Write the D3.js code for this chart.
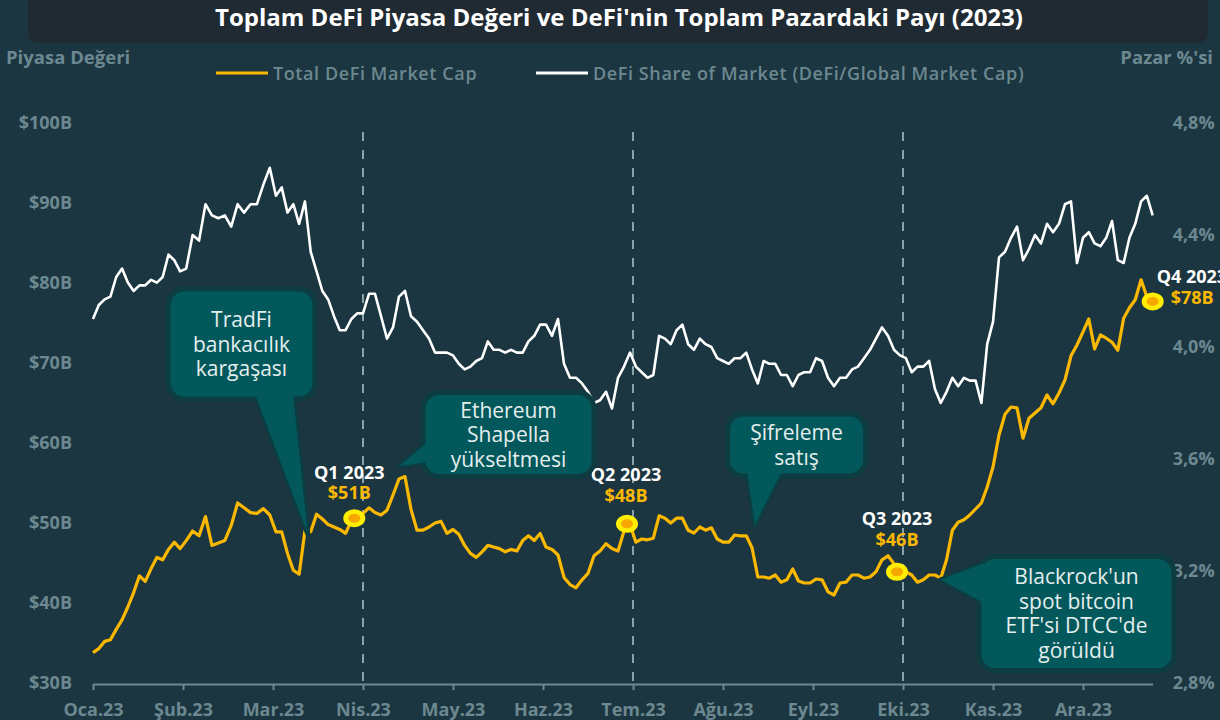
<!DOCTYPE html>
<html>
<head>
<meta charset="utf-8">
<script src="https://cdn.jsdelivr.net/npm/d3@7"></script>
<style>
  body { margin: 0; background: #1b3640; }
  svg { display: block; font-family: "Open Sans", "Noto Sans", sans-serif; }
</style>
</head>
<body>
<div id="chart"></div>
<script>
// ---- DATA (one value every 2 days from 1 Jan 2023) ----
var startDate = "2023-01-01";
var stepDays = 2;

// Total DeFi Market Cap ($B)
var defiCap = [
  33.8, 34.3, 35.2, 35.4, 36.7, 37.9, 39.5, 41.3, 43.4, 42.7, 44.3, 45.7, 45.4, 46.7, 47.6, 46.8,
  47.8, 49.0, 48.4, 50.8, 47.2, 47.5, 47.8, 49.7, 52.5, 51.9, 51.3, 51.2, 51.8, 51.0,
  48.9, 48.9, 46.2, 44.1, 43.6, 49.0, 48.9, 51.1, 50.5, 49.8, 49.5, 49.2, 48.7, 50.3, 51.0,
  51.2, 51.9, 51.3, 51.0, 51.6, 53.5, 55.5, 55.8, 51.7, 49.1, 49.1, 49.5, 50.0, 50.2, 48.7,
  49.2, 48.6, 47.2, 46.2, 45.7, 46.4, 47.2, 47.0, 46.8, 46.4, 46.7, 46.5, 47.8, 48.4, 47.8, 48.7,
  47.0, 46.7, 46.0, 43.2, 42.3, 41.9, 42.9, 43.7, 45.9, 46.5, 47.4, 46.8, 46.5, 49.0, 49.8,
  47.6, 48.0, 47.9, 48.1, 50.9, 50.6, 50.0, 50.6, 50.6, 49.1, 48.75, 49.5, 49.1, 49.4, 48.0,
  47.6, 47.6, 48.5, 48.4, 48.4, 46.9, 43.25, 43.25, 43.1, 43.5, 42.6, 42.9, 44.25, 42.75, 42.5, 42.5,
  43.0, 42.9, 41.4, 41.0, 42.5, 42.6, 43.5, 43.5, 43.1, 43.25, 43.9, 45.4, 45.9, 44.9, 43.9,
  43.9, 43.5, 42.6, 42.9, 43.5, 43.5, 43.1, 45.4, 49.1, 50.1, 50.4, 51.0, 51.75, 52.5, 54.5,
  57.0, 61.0, 63.6, 64.5, 64.4, 60.6, 63.1, 63.75, 64.4, 66.0, 64.9, 66.25, 67.9, 70.9, 72.25,
  73.9, 75.5, 71.75, 73.5, 73.1, 72.6, 71.6, 75.6, 76.9, 77.9, 80.4, 78.25, 77.6
];

// DeFi Share of Market (%)
var defiShare = [
  4.10, 4.15, 4.17, 4.18, 4.25, 4.28, 4.23, 4.20, 4.22, 4.22, 4.24, 4.23, 4.25, 4.33, 4.31, 4.27,
  4.28, 4.40, 4.38, 4.51, 4.47, 4.46, 4.47, 4.43, 4.51, 4.48, 4.51, 4.51, 4.58, 4.64,
  4.54, 4.57, 4.48, 4.51, 4.44, 4.52, 4.34, 4.27, 4.20, 4.17, 4.11, 4.06, 4.06, 4.10, 4.12,
  4.12, 4.19, 4.19, 4.11, 4.03, 4.07, 4.18, 4.20, 4.11, 4.09, 4.06, 4.03, 3.98, 3.98, 3.98,
  3.97, 3.94, 3.92, 3.93, 3.95, 3.96, 4.02, 3.99, 3.99, 3.98, 3.99, 3.98, 3.98, 4.02, 4.04, 4.08,
  4.08, 4.04, 4.10, 3.94, 3.89, 3.89, 3.87, 3.84, 3.80, 3.81, 3.84, 3.78, 3.89, 3.93, 3.98,
  3.93, 3.91, 3.89, 3.90, 4.04, 4.03, 4.01, 4.06, 4.08, 4.01, 3.99, 4.03, 4.01, 4.00, 3.96,
  3.95, 3.94, 3.96, 3.96, 3.98, 3.92, 3.87, 3.95, 3.94, 3.94, 3.90, 3.90, 3.86, 3.90, 3.91, 3.91,
  3.96, 3.95, 3.89, 3.86, 3.89, 3.89, 3.92, 3.93, 3.96, 3.99, 4.03, 4.07, 4.04, 3.99, 3.97,
  3.96, 3.91, 3.93, 3.93, 3.95, 3.85, 3.80, 3.84, 3.89, 3.86, 3.89, 3.88, 3.88, 3.80, 4.01,
  4.09, 4.32, 4.34, 4.39, 4.43, 4.31, 4.35, 4.40, 4.37, 4.44, 4.41, 4.44, 4.51, 4.52, 4.30,
  4.39, 4.41, 4.37, 4.36, 4.39, 4.45, 4.31, 4.30, 4.39, 4.44, 4.52, 4.54, 4.47
];

var monthLabels = ["Oca.23", "Şub.23", "Mar.23", "Nis.23", "May.23", "Haz.23",
                   "Tem.23", "Ağu.23", "Eyl.23", "Eki.23", "Kas.23", "Ara.23"];
var capTicks = [30, 40, 50, 60, 70, 80, 90, 100];
var shareTicks = [2.8, 3.2, 3.6, 4.0, 4.4, 4.8];

// quarter boundaries (dashed) and quarter-end markers
var quarterLines = ["2023-04-01", "2023-07-01", "2023-10-01"];
var quarterNames = ["Q1 2023", "Q2 2023", "Q3 2023", "Q4 2023"];
var quarterDates = ["2023-03-29", "2023-06-29", "2023-09-29", "2023-12-25"];
var quarterCaps = [50.6, 49.9, 43.9, 77.7];
var quarterValues = ["$51B", "$48B", "$46B", "$78B"];

// events (callouts point at these)
var eventTexts = [
  ["TradFi", "bankacılık", "kargaşası"],
  ["Ethereum", "Shapella", "yükseltmesi"],
  ["Şifreleme", "satış"],
  ["Blackrock'un", "spot bitcoin", "ETF'si DTCC'de", "görüldü"]
];
var eventDates = ["2023-03-13", "2023-04-13", "2023-08-12", "2023-10-14"];
var eventCaps = [48.6, 57.1, 49.75, 42.9];

// ---- LAYOUT ----
var W = 1220, H = 720;
var plot = {left: 93, top: 123, bottom: 683, monthWidth: 90};
var colors = {
  bg: "#1b3640", titleBg: "#1f2a32", axis: "#6c8891", gold: "#fbb800",
  white: "#ffffff", dash: "#8aa2aa", boxFill: "#03585c", boxStroke: "#0b3d41",
  boxText: "#e4eeed"
};

// callout boxes [x, y, w, h] and the two base points of their pointer
var calloutBoxes = [
  {box: [168, 289, 147, 110], base: [[255, 394], [293, 394]]},
  {box: [423, 392.5, 171, 84], base: [[428, 442], [428, 462]]},
  {box: [727.5, 414, 138, 62], base: [[747, 471], [782, 471]]},
  {box: [979, 556.5, 195, 114], base: [[984, 563], [984, 603]]}
];
var qLabelShift = [[-5, -39, -19], [-1, -43, -22], [0, -47, -26]];

var parseDate = d3.timeParse("%Y-%m-%d");

// equal-width months on the x axis
function monthPos(d) {
  var m0 = d3.timeMonth.floor(d);
  var m1 = d3.timeMonth.offset(m0, 1);
  return d.getMonth() + (d - m0) / (m1 - m0);
}

var start = parseDate(startDate);
var series = defiCap.map(function(v, i) {
  return {date: d3.timeDay.offset(start, i * stepDays), cap: v, share: defiShare[i]};
});
var endPos = monthPos(series[series.length - 1].date);

var x = d3.scaleLinear().domain([0, endPos])
  .range([plot.left, plot.left + plot.monthWidth * endPos]);
var yCap = d3.scaleLinear().domain([30, 100]).range([plot.bottom, plot.top]);
var yShare = d3.scaleLinear().domain([2.8, 4.8]).range([plot.bottom, plot.top]);

var svg = d3.select("#chart").append("svg")
  .attr("width", W)
  .attr("height", H);

svg.append("rect").attr("width", W).attr("height", H).attr("fill", colors.bg);

// title bar
svg.append("rect")
  .attr("x", 28).attr("y", -12)
  .attr("width", 1180).attr("height", 55)
  .attr("rx", 10)
  .attr("fill", colors.titleBg);
svg.append("text")
  .attr("x", 619).attr("y", 26)
  .attr("text-anchor", "middle")
  .attr("fill", "#ffffff")
  .style("font-size", "24px").style("font-weight", 700)
  .text("Toplam DeFi Piyasa Değeri ve DeFi'nin Toplam Pazardaki Payı (2023)");

// axis titles
svg.append("text")
  .attr("x", 6).attr("y", 64)
  .attr("fill", colors.axis)
  .style("font-size", "18.5px").style("font-weight", 700)
  .text("Piyasa Değeri");
svg.append("text")
  .attr("x", 1213).attr("y", 64)
  .attr("text-anchor", "end")
  .attr("fill", colors.axis)
  .style("font-size", "18.5px").style("font-weight", 700)
  .text("Pazar %'si");

// legend
var legendItems = [
  {x: 216, color: colors.gold, label: "Total DeFi Market Cap"},
  {x: 536, color: colors.white, label: "DeFi Share of Market (DeFi/Global Market Cap)"}
];
var legend = svg.selectAll(".legend").data(legendItems).enter()
  .append("g").attr("class", "legend")
  .attr("transform", function(d) { return "translate(" + d.x + ",73)"; });
legend.append("line")
  .attr("x1", 0).attr("x2", 52)
  .attr("stroke", function(d) { return d.color; })
  .attr("stroke-width", 3);
legend.append("text")
  .attr("x", 57).attr("y", 6.5)
  .attr("fill", colors.axis)
  .style("font-size", "18px").style("font-weight", 600)
  .style("letter-spacing", "0.6px")
  .text(function(d) { return d.label; });

// left axis
var leftAxis = svg.append("g")
  .attr("transform", "translate(" + plot.left + ",0)")
  .call(d3.axisLeft(yCap).tickValues(capTicks).tickSize(0).tickPadding(21)
    .tickFormat(function(d) { return "$" + d + "B"; }));
leftAxis.select(".domain").remove();

// right axis
var rightAxis = svg.append("g")
  .attr("transform", "translate(" + x(endPos) + ",0)")
  .call(d3.axisRight(yShare).tickValues(shareTicks).tickSize(0).tickPadding(20)
    .tickFormat(function(d) { return d3.format(".1f")(d).replace(".", ",") + "%"; }));
rightAxis.select(".domain").remove();

// bottom axis
var bottomAxis = svg.append("g")
  .attr("transform", "translate(0," + (plot.bottom + 1) + ")")
  .call(d3.axisBottom(x).tickValues(d3.range(monthLabels.length))
    .tickSize(6).tickSizeOuter(0).tickPadding(13)
    .tickFormat(function(d) { return monthLabels[d]; }));
bottomAxis.select(".domain").attr("stroke", colors.axis).attr("stroke-width", 2);
bottomAxis.selectAll(".tick line").attr("stroke", colors.axis).attr("stroke-width", 2);

svg.selectAll(".tick text")
  .attr("fill", colors.axis)
  .style("font-size", "18px")
  .style("font-weight", 700)
  .style("font-family", "'Open Sans', sans-serif");

// quarter dashed lines
svg.selectAll(".qline").data(quarterLines).enter()
  .append("line").attr("class", "qline")
  .attr("x1", function(d) { return x(monthPos(parseDate(d))); })
  .attr("x2", function(d) { return x(monthPos(parseDate(d))); })
  .attr("y1", 132).attr("y2", plot.bottom - 2)
  .attr("stroke", colors.dash)
  .attr("stroke-width", 2)
  .attr("stroke-dasharray", "9,9");

// lines
var shareLine = d3.line()
  .x(function(d) { return x(monthPos(d.date)); })
  .y(function(d) { return yShare(d.share); });
var capLine = d3.line()
  .x(function(d) { return x(monthPos(d.date)); })
  .y(function(d) { return yCap(d.cap); });

svg.append("path")
  .datum(series)
  .attr("d", shareLine)
  .attr("fill", "none")
  .attr("stroke", colors.white)
  .attr("stroke-width", 2.6)
  .attr("stroke-linejoin", "round");

svg.append("path")
  .datum(series)
  .attr("d", capLine)
  .attr("fill", "none")
  .attr("stroke", colors.gold)
  .attr("stroke-width", 3.2)
  .attr("stroke-linejoin", "round");

// quarter markers and labels
var quarters = quarterDates.map(function(d, i) {
  return {date: parseDate(d), cap: quarterCaps[i], name: quarterNames[i], value: quarterValues[i]};
});

quarters.forEach(function(q, i) {
  var qx = x(monthPos(q.date)), qy = yCap(q.cap);
  svg.append("ellipse")
    .attr("cx", qx).attr("cy", qy)
    .attr("rx", 11).attr("ry", 9)
    .attr("fill", "#ffee00");
  svg.append("ellipse")
    .attr("cx", qx).attr("cy", qy)
    .attr("rx", 6).attr("ry", 4.5)
    .attr("fill", "#f6a800");

  var nameX, nameY, valX, valY, anchor;
  if (i < 3) {
    var s = qLabelShift[i];
    nameX = valX = qx + s[0];
    nameY = qy + s[1];
    valY = qy + s[2];
    anchor = "middle";
  } else {
    nameX = qx + 4; nameY = qy - 18;
    valX = qx + 18; valY = qy + 3;
    anchor = "start";
  }
  svg.append("text")
    .attr("x", nameX).attr("y", nameY)
    .attr("text-anchor", anchor)
    .attr("fill", "#ffffff")
    .style("font-size", "18px").style("font-weight", 700)
    .text(q.name);
  svg.append("text")
    .attr("x", valX).attr("y", valY)
    .attr("text-anchor", anchor)
    .attr("fill", colors.gold)
    .style("font-size", "18px").style("font-weight", 700)
    .text(q.value);
});

// callouts
calloutBoxes.forEach(function(c, i) {
  var tip = [x(monthPos(parseDate(eventDates[i]))), yCap(eventCaps[i])];
  var tri = [c.base[0], tip, c.base[1]];
  var g = svg.append("g");

  g.append("path")
    .attr("d", d3.line()(tri) + "Z")
    .attr("fill", colors.boxFill)
    .attr("stroke", colors.boxStroke)
    .attr("stroke-width", 5)
    .attr("stroke-linejoin", "round");
  g.append("rect")
    .attr("x", c.box[0]).attr("y", c.box[1])
    .attr("width", c.box[2]).attr("height", c.box[3])
    .attr("rx", 16)
    .attr("fill", colors.boxFill)
    .attr("stroke", colors.boxStroke)
    .attr("stroke-width", 5);
  g.append("path")
    .attr("d", d3.line()(tri) + "Z")
    .attr("fill", colors.boxFill);

  var lines = eventTexts[i];
  var cx = c.box[0] + c.box[2] / 2;
  var cy = c.box[1] + c.box[3] / 2;
  g.selectAll("text").data(lines).enter()
    .append("text")
    .attr("x", cx)
    .attr("y", function(d, j) { return cy + (j - (lines.length - 1) / 2) * 24.5 + 7.5; })
    .attr("text-anchor", "middle")
    .attr("fill", colors.boxText)
    .style("font-size", "21px")
    .text(function(d) { return d; });
});
</script>
</body>
</html>
